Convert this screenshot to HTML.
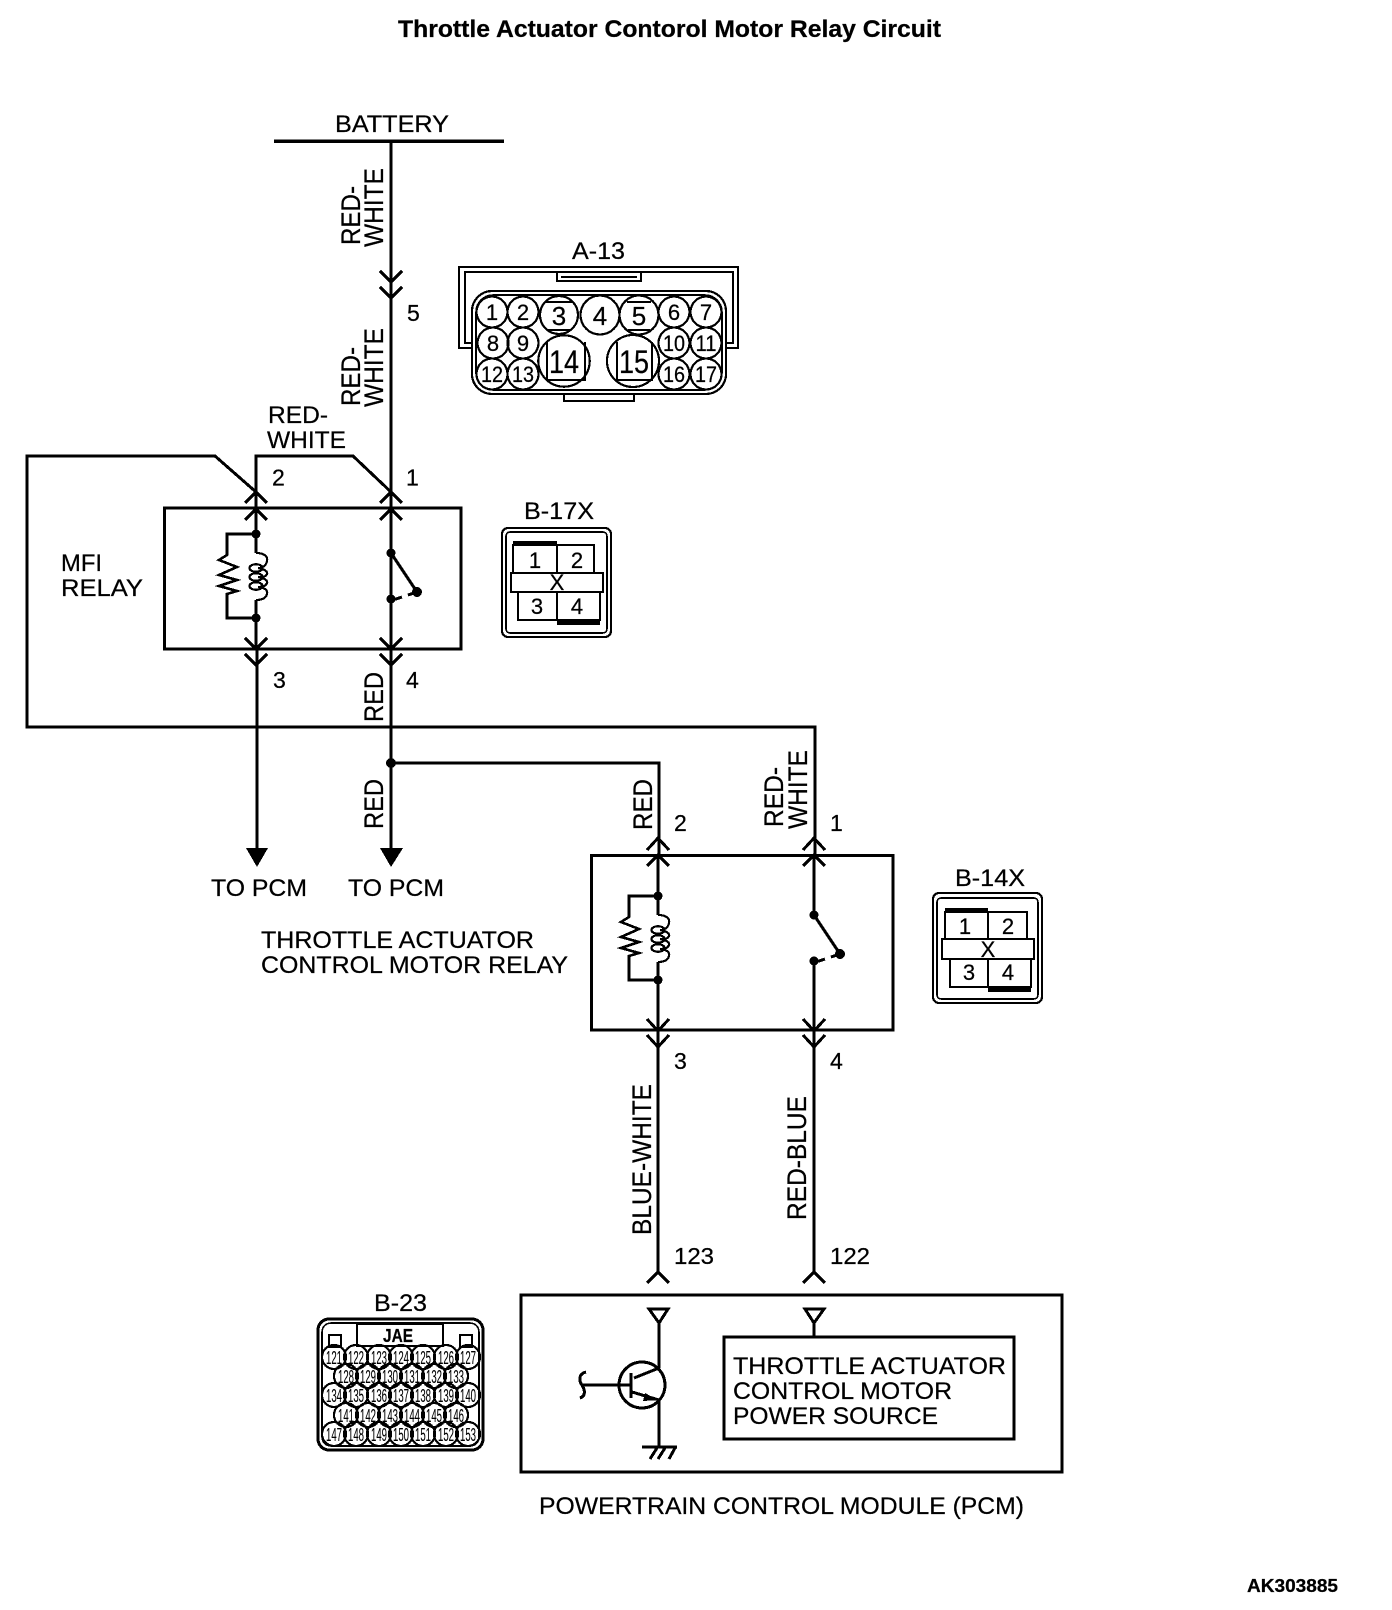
<!DOCTYPE html>
<html><head><meta charset="utf-8"><title>Throttle Actuator Contorol Motor Relay Circuit</title>
<style>
html,body{margin:0;padding:0;background:#fff}
svg{display:block}
text{font-family:"Liberation Sans",sans-serif;fill:#000;stroke:#000;stroke-width:.25px}
.t{font-size:24.5px}
.v{font-size:27px}
.d{font-size:22px;text-anchor:middle}
.c{font-size:18px;text-anchor:middle;stroke-width:.1px}
.w{fill:none;stroke:#000;stroke-width:3}
.n{fill:none;stroke:#000;stroke-width:1.6}
.m{fill:none;stroke:#000;stroke-width:2.2}
.dot{fill:#000}
.p{font-size:23px}
</style></head><body>
<svg xmlns="http://www.w3.org/2000/svg" width="1392" height="1610" viewBox="0 0 1392 1610" shape-rendering="crispEdges">
<rect width="1392" height="1610" fill="#fff"/>
<text x="398" y="37" font-size="24" font-weight="bold" textLength="543" lengthAdjust="spacingAndGlyphs">Throttle Actuator Contorol Motor Relay Circuit</text>
<text x="1247" y="1592" font-size="18.5" font-weight="bold" textLength="91" lengthAdjust="spacingAndGlyphs">AK303885</text>

<!-- battery -->
<path d="M274 141H504" class="w" style="stroke-width:3.5"/>
<text class="t" x="335" y="132" textLength="114" lengthAdjust="spacingAndGlyphs">BATTERY</text>

<!-- wires -->
<path class="w" d="M391 141V649M391 649V763M391 763V850"/>
<path class="w" d="M256 508V456H353L391 492"/>
<path class="w" d="M256 492L215 456H27V727H815V855"/>
<path class="w" d="M257 649V850"/>
<path class="w" d="M391 763H659V855"/>
<path class="w" d="M658 855V896M658 980V1272M814 855V915M814 961V1272"/>
<circle class="dot" cx="391" cy="763" r="5"/>

<!-- chevrons -->
<path class="w" d="M380 271L391 282L402 271M380 287L391 298L402 287"/>
<path class="w" d="M245 503L256 492L267 503M245 520L256 509L267 520"/>
<path class="w" d="M380 503L391 492L402 503M380 520L391 509L402 520"/>
<path class="w" d="M245 638L256 649L267 638M245 654L256 665L267 654"/>
<path class="w" d="M380 638L391 649L402 638M380 654L391 665L402 654"/>
<path class="w" d="M647 850L658 838L669 850M647 866L658 855L669 866"/>
<path class="w" d="M803 850L814 838L825 850M803 866L814 855L825 866"/>
<path class="w" d="M647 1019L658 1031L669 1019M647 1035L658 1047L669 1035"/>
<path class="w" d="M803 1019L814 1031L825 1019M803 1035L814 1047L825 1035"/>
<path class="w" d="M647 1283L658 1272L669 1283M803 1283L814 1272L825 1283"/>

<!-- filled arrows -->
<path class="dot" d="M246 848H268L257 867Z"/>
<path class="dot" d="M380 848H403L391 867Z"/>

<!-- boxes -->
<rect class="w" x="164.5" y="508" width="296.5" height="141"/>
<rect class="w" x="591.5" y="855.5" width="301.5" height="174.5"/>
<rect class="w" x="521" y="1295" width="541" height="177"/>
<rect class="w" x="724" y="1337" width="290" height="102"/>

<!-- MFI relay internals -->
<g>
<path class="w" d="M256 508V553M256 600V649"/>
<path class="m" style="stroke-width:2.6" d="M256 534H227V555L219 560L237 567L219 575L237 580L219 586L237 591L227 594V618H256"/>
<path class="m" d="M256 553C265 553 268 557 267 561C266 566 262 568 258 568C265 569 268 572 267 574C266 577 262 577 258 577C265 578 268 581 267 583C266 586 262 587 258 587C265 588 268 590 267 594C266 598 262 600 256 600"/>
<ellipse class="m" cx="256" cy="568" rx="6.5" ry="3.8"/>
<ellipse class="m" cx="256" cy="577" rx="6.5" ry="3.8"/>
<ellipse class="m" cx="256" cy="586" rx="6.5" ry="3.8"/>
<circle class="dot" cx="256" cy="534" r="4.5"/>
<circle class="dot" cx="256" cy="618" r="4.5"/>
</g>
<g>
<path class="w" d="M391 553L417 592M391 599H396L402 597M408 595L417 592"/>
<path class="w" d="M391 599V649"/>
<circle class="dot" cx="391" cy="553" r="4.5"/>
<circle class="dot" cx="391" cy="599" r="4.5"/>
<circle class="dot" cx="417" cy="592" r="5"/>
</g>

<!-- Second relay internals -->
<g transform="translate(402 362)">
<path class="m" style="stroke-width:2.6" d="M256 534H227V555L219 560L237 567L219 575L237 580L219 586L237 591L227 594V618H256"/>
<path class="m" d="M256 553C265 553 268 557 267 561C266 566 262 568 258 568C265 569 268 572 267 574C266 577 262 577 258 577C265 578 268 581 267 583C266 586 262 587 258 587C265 588 268 590 267 594C266 598 262 600 256 600"/>
<path class="w" d="M256 534V553M256 600V618"/>
<ellipse class="m" cx="256" cy="568" rx="6.5" ry="3.8"/>
<ellipse class="m" cx="256" cy="577" rx="6.5" ry="3.8"/>
<ellipse class="m" cx="256" cy="586" rx="6.5" ry="3.8"/>
<circle class="dot" cx="256" cy="534" r="4.5"/>
<circle class="dot" cx="256" cy="618" r="4.5"/>
</g>
<g transform="translate(423 362)">
<path class="w" d="M391 553L417 592M391 599H396L402 597M408 595L417 592"/>
<circle class="dot" cx="391" cy="553" r="4.5"/>
<circle class="dot" cx="391" cy="599" r="4.5"/>
<circle class="dot" cx="417" cy="592" r="5"/>
</g>

<!-- Pin labels -->
<text class="p" x="407" y="321">5</text>
<text class="p" x="272" y="485.5">2</text>
<text class="p" x="406" y="485.5">1</text>
<text class="p" x="273" y="688">3</text>
<text class="p" x="406" y="688">4</text>
<text class="p" x="674" y="831">2</text>
<text class="p" x="830" y="831">1</text>
<text class="p" x="674" y="1069">3</text>
<text class="p" x="830" y="1069">4</text>
<text class="p" x="674" y="1264" textLength="40" lengthAdjust="spacingAndGlyphs">123</text>
<text class="p" x="830" y="1264" textLength="40" lengthAdjust="spacingAndGlyphs">122</text>

<!-- Horizontal labels -->
<text class="t" x="268" y="423" textLength="60" lengthAdjust="spacingAndGlyphs">RED-</text>
<text class="t" x="267" y="448" textLength="79" lengthAdjust="spacingAndGlyphs">WHITE</text>
<text class="t" x="61" y="571" textLength="41" lengthAdjust="spacingAndGlyphs">MFI</text>
<text class="t" x="61" y="596" textLength="82" lengthAdjust="spacingAndGlyphs">RELAY</text>
<text class="t" x="211" y="896" textLength="96" lengthAdjust="spacingAndGlyphs">TO PCM</text>
<text class="t" x="348" y="896" textLength="96" lengthAdjust="spacingAndGlyphs">TO PCM</text>
<text class="t" x="261" y="948" textLength="273" lengthAdjust="spacingAndGlyphs">THROTTLE ACTUATOR</text>
<text class="t" x="261" y="973" textLength="307" lengthAdjust="spacingAndGlyphs">CONTROL MOTOR RELAY</text>
<text class="t" x="733" y="1374" textLength="273" lengthAdjust="spacingAndGlyphs">THROTTLE ACTUATOR</text>
<text class="t" x="733" y="1399" textLength="219" lengthAdjust="spacingAndGlyphs">CONTROL MOTOR</text>
<text class="t" x="733" y="1424" textLength="205" lengthAdjust="spacingAndGlyphs">POWER SOURCE</text>
<text class="t" x="539" y="1514" textLength="485" lengthAdjust="spacingAndGlyphs">POWERTRAIN CONTROL MODULE (PCM)</text>

<!-- Vertical labels -->
<text class="v" transform="translate(360 245) rotate(-90)" textLength="59" lengthAdjust="spacingAndGlyphs">RED-</text>
<text class="v" transform="translate(383 247) rotate(-90)" textLength="79" lengthAdjust="spacingAndGlyphs">WHITE</text>
<text class="v" transform="translate(360 406) rotate(-90)" textLength="59" lengthAdjust="spacingAndGlyphs">RED-</text>
<text class="v" transform="translate(383 407) rotate(-90)" textLength="79" lengthAdjust="spacingAndGlyphs">WHITE</text>
<text class="v" transform="translate(383 722) rotate(-90)" textLength="50" lengthAdjust="spacingAndGlyphs">RED</text>
<text class="v" transform="translate(383 829) rotate(-90)" textLength="50" lengthAdjust="spacingAndGlyphs">RED</text>
<text class="v" transform="translate(652 830) rotate(-90)" textLength="51" lengthAdjust="spacingAndGlyphs">RED</text>
<text class="v" transform="translate(783 827) rotate(-90)" textLength="60" lengthAdjust="spacingAndGlyphs">RED-</text>
<text class="v" transform="translate(807 829) rotate(-90)" textLength="79" lengthAdjust="spacingAndGlyphs">WHITE</text>
<text class="v" transform="translate(651 1235) rotate(-90)" textLength="151" lengthAdjust="spacingAndGlyphs">BLUE-WHITE</text>
<text class="v" transform="translate(806 1220) rotate(-90)" textLength="124" lengthAdjust="spacingAndGlyphs">RED-BLUE</text>

<!-- PCM internals -->
<path class="w" d="M649 1309H668L659 1323ZM659 1323V1368M659 1400V1447"/>
<path class="w" d="M805 1309H824L814 1323ZM814 1323V1337"/>
<path class="w" d="M642 1447H677"/>
<path class="w" d="M657 1448L650 1459M665 1448L658 1459M675 1448L669 1459"/>
<circle class="w" cx="642" cy="1385" r="23"/>
<path class="w" d="M583 1385H631M631 1373V1398M634 1378L659 1368M632 1392L659 1400"/>
<path class="dot" d="M645 1393L658 1400L643 1401Z"/>
<path class="w" d="M586 1372C578 1374 579 1381 582 1385C585 1390 586 1396 580 1398"/>

<!-- A-13 connector -->
<text class="t" x="572" y="259" textLength="53" lengthAdjust="spacingAndGlyphs">A-13</text>
<path class="m" d="M473 348H459V267H738V348H725"/>
<path class="n" d="M473 343H465V272H733V343H725"/>
<path class="m" d="M557 272V281H641V272M561 277H637"/>
<rect class="m" x="472" y="291" width="254" height="103" rx="20" fill="#fff"/>
<rect class="n" x="476" y="295" width="246" height="95" rx="17"/>
<path class="n" d="M564 394V401H634V394"/>
<g fill="#fff">
<circle class="m" cx="492" cy="312" r="15.5"/><circle class="m" cx="523" cy="312" r="15.5"/>
<circle class="m" cx="559" cy="315" r="19"/><circle class="m" cx="600" cy="315" r="19.5"/><circle class="m" cx="639" cy="315" r="19.5"/>
<circle class="m" cx="674" cy="312" r="15.5"/><circle class="m" cx="706" cy="312" r="15.5"/>
<circle class="m" cx="493" cy="343" r="15.5"/><circle class="m" cx="523" cy="343" r="15.5"/>
<circle class="m" cx="674" cy="343" r="15.5"/><circle class="m" cx="706" cy="343" r="15.5"/>
<circle class="m" cx="492" cy="374" r="15.5"/><circle class="m" cx="523" cy="374" r="15.5"/>
<circle class="m" cx="674" cy="374" r="15.5"/><circle class="m" cx="706" cy="374" r="15.5"/>
<circle class="m" cx="564" cy="361" r="25.7"/><circle class="m" cx="633" cy="361" r="26"/>
</g>
<path class="n" d="M547 342V380H585V342M617 342V380H652V342M545 302H573M548 330H571M627 302H651M628 330H650"/>
<text class="d" x="492" y="320">1</text><text class="d" x="523" y="320">2</text>
<text class="d" style="font-size:26px" x="559" y="325">3</text><text class="d" style="font-size:26px" x="600" y="325">4</text><text class="d" style="font-size:26px" x="639" y="325">5</text>
<text class="d" x="674" y="320">6</text><text class="d" x="706" y="320">7</text>
<text class="d" x="493" y="351">8</text><text class="d" x="523" y="351">9</text>
<text class="d" x="674" y="351" textLength="22" lengthAdjust="spacingAndGlyphs">10</text><text class="d" x="706" y="351" textLength="21" lengthAdjust="spacingAndGlyphs">11</text>
<text class="d" x="492" y="382" textLength="22" lengthAdjust="spacingAndGlyphs">12</text><text class="d" x="523" y="382" textLength="22" lengthAdjust="spacingAndGlyphs">13</text>
<text class="d" x="674" y="382" textLength="22" lengthAdjust="spacingAndGlyphs">16</text><text class="d" x="706" y="382" textLength="22" lengthAdjust="spacingAndGlyphs">17</text>
<text class="d" style="font-size:32px" x="564" y="373" textLength="30" lengthAdjust="spacingAndGlyphs">14</text>
<text class="d" style="font-size:32px" x="634" y="373" textLength="30" lengthAdjust="spacingAndGlyphs">15</text>

<!-- B-17X connector -->
<text class="t" x="524" y="519" textLength="70" lengthAdjust="spacingAndGlyphs">B-17X</text>
<rect class="m" x="502" y="528" width="109" height="109" rx="6"/>
<rect class="n" x="506" y="532" width="101" height="101" rx="4"/>
<path class="m" d="M513 573V545H594V573M557 545V573M518 592V620H600V592M557 592V620"/>
<rect class="dot" x="513" y="541" width="44" height="5"/>
<rect class="dot" x="557" y="620" width="43" height="5"/>
<rect class="m" x="511" y="573" width="92" height="19"/>
<text class="d" x="535" y="568">1</text><text class="d" x="577" y="568">2</text><text class="d" x="537" y="614">3</text><text class="d" x="577" y="614">4</text>
<text class="d" x="557" y="590">X</text>

<!-- B-14X connector -->
<text class="t" x="955" y="886" textLength="70" lengthAdjust="spacingAndGlyphs">B-14X</text>
<rect class="m" x="933" y="893" width="109" height="110" rx="6"/>
<rect class="n" x="937" y="898" width="101" height="101" rx="4"/>
<path class="m" d="M945 939V912H1027V939M988 912V939M950 959V987H1031V959M988 959V987"/>
<rect class="dot" x="945" y="908" width="43" height="5"/>
<rect class="dot" x="988" y="987" width="43" height="5"/>
<rect class="m" x="942" y="939" width="92" height="20"/>
<text class="d" x="965" y="934">1</text><text class="d" x="1008" y="934">2</text><text class="d" x="969" y="980">3</text><text class="d" x="1008" y="980">4</text>
<text class="d" x="988" y="957">X</text>

<!-- B-23 connector -->
<text class="t" x="374" y="1311" textLength="53" lengthAdjust="spacingAndGlyphs">B-23</text>
<rect class="w" x="318" y="1319" width="165" height="131" rx="11"/>
<rect class="n" x="322" y="1323" width="157" height="123" rx="9"/>
<rect class="m" x="357" y="1324" width="86" height="22"/>
<rect class="m" x="329" y="1335" width="12" height="12"/>
<rect class="m" x="460" y="1335" width="12" height="12"/>
<text x="383" y="1342" style="font-size:18px;font-weight:bold" textLength="30" lengthAdjust="spacingAndGlyphs">JAE</text>
<g fill="#fff">
<circle class="m" cx="334" cy="1357" r="12"/><circle class="m" cx="356" cy="1357" r="12"/><circle class="m" cx="379" cy="1357" r="12"/><circle class="m" cx="401" cy="1357" r="12"/><circle class="m" cx="423" cy="1357" r="12"/><circle class="m" cx="446" cy="1357" r="12"/><circle class="m" cx="468" cy="1357" r="12"/>
<circle class="m" cx="346" cy="1376" r="12"/><circle class="m" cx="368" cy="1376" r="12"/><circle class="m" cx="390" cy="1376" r="12"/><circle class="m" cx="412" cy="1376" r="12"/><circle class="m" cx="434" cy="1376" r="12"/><circle class="m" cx="456" cy="1376" r="12"/>
<circle class="m" cx="334" cy="1395" r="12"/><circle class="m" cx="356" cy="1395" r="12"/><circle class="m" cx="379" cy="1395" r="12"/><circle class="m" cx="401" cy="1395" r="12"/><circle class="m" cx="423" cy="1395" r="12"/><circle class="m" cx="446" cy="1395" r="12"/><circle class="m" cx="468" cy="1395" r="12"/>
<circle class="m" cx="346" cy="1415" r="12"/><circle class="m" cx="368" cy="1415" r="12"/><circle class="m" cx="390" cy="1415" r="12"/><circle class="m" cx="412" cy="1415" r="12"/><circle class="m" cx="434" cy="1415" r="12"/><circle class="m" cx="456" cy="1415" r="12"/>
<circle class="m" cx="334" cy="1434" r="12"/><circle class="m" cx="356" cy="1434" r="12"/><circle class="m" cx="379" cy="1434" r="12"/><circle class="m" cx="401" cy="1434" r="12"/><circle class="m" cx="423" cy="1434" r="12"/><circle class="m" cx="446" cy="1434" r="12"/><circle class="m" cx="468" cy="1434" r="12"/>
</g>
<g transform="translate(0 1)">
<text class="c" x="334" y="1363" textLength="16" lengthAdjust="spacingAndGlyphs">121</text><text class="c" x="356" y="1363" textLength="16" lengthAdjust="spacingAndGlyphs">122</text><text class="c" x="379" y="1363" textLength="16" lengthAdjust="spacingAndGlyphs">123</text><text class="c" x="401" y="1363" textLength="16" lengthAdjust="spacingAndGlyphs">124</text><text class="c" x="423" y="1363" textLength="16" lengthAdjust="spacingAndGlyphs">125</text><text class="c" x="446" y="1363" textLength="16" lengthAdjust="spacingAndGlyphs">126</text><text class="c" x="468" y="1363" textLength="16" lengthAdjust="spacingAndGlyphs">127</text>
<text class="c" x="346" y="1382" textLength="16" lengthAdjust="spacingAndGlyphs">128</text><text class="c" x="368" y="1382" textLength="16" lengthAdjust="spacingAndGlyphs">129</text><text class="c" x="390" y="1382" textLength="16" lengthAdjust="spacingAndGlyphs">130</text><text class="c" x="412" y="1382" textLength="16" lengthAdjust="spacingAndGlyphs">131</text><text class="c" x="434" y="1382" textLength="16" lengthAdjust="spacingAndGlyphs">132</text><text class="c" x="456" y="1382" textLength="16" lengthAdjust="spacingAndGlyphs">133</text>
<text class="c" x="334" y="1401" textLength="16" lengthAdjust="spacingAndGlyphs">134</text><text class="c" x="356" y="1401" textLength="16" lengthAdjust="spacingAndGlyphs">135</text><text class="c" x="379" y="1401" textLength="16" lengthAdjust="spacingAndGlyphs">136</text><text class="c" x="401" y="1401" textLength="16" lengthAdjust="spacingAndGlyphs">137</text><text class="c" x="423" y="1401" textLength="16" lengthAdjust="spacingAndGlyphs">138</text><text class="c" x="446" y="1401" textLength="16" lengthAdjust="spacingAndGlyphs">139</text><text class="c" x="468" y="1401" textLength="16" lengthAdjust="spacingAndGlyphs">140</text>
<text class="c" x="346" y="1421" textLength="16" lengthAdjust="spacingAndGlyphs">141</text><text class="c" x="368" y="1421" textLength="16" lengthAdjust="spacingAndGlyphs">142</text><text class="c" x="390" y="1421" textLength="16" lengthAdjust="spacingAndGlyphs">143</text><text class="c" x="412" y="1421" textLength="16" lengthAdjust="spacingAndGlyphs">144</text><text class="c" x="434" y="1421" textLength="16" lengthAdjust="spacingAndGlyphs">145</text><text class="c" x="456" y="1421" textLength="16" lengthAdjust="spacingAndGlyphs">146</text>
<text class="c" x="334" y="1440" textLength="16" lengthAdjust="spacingAndGlyphs">147</text><text class="c" x="356" y="1440" textLength="16" lengthAdjust="spacingAndGlyphs">148</text><text class="c" x="379" y="1440" textLength="16" lengthAdjust="spacingAndGlyphs">149</text><text class="c" x="401" y="1440" textLength="16" lengthAdjust="spacingAndGlyphs">150</text><text class="c" x="423" y="1440" textLength="16" lengthAdjust="spacingAndGlyphs">151</text><text class="c" x="446" y="1440" textLength="16" lengthAdjust="spacingAndGlyphs">152</text><text class="c" x="468" y="1440" textLength="16" lengthAdjust="spacingAndGlyphs">153</text>
</g>
</svg>
</body></html>
